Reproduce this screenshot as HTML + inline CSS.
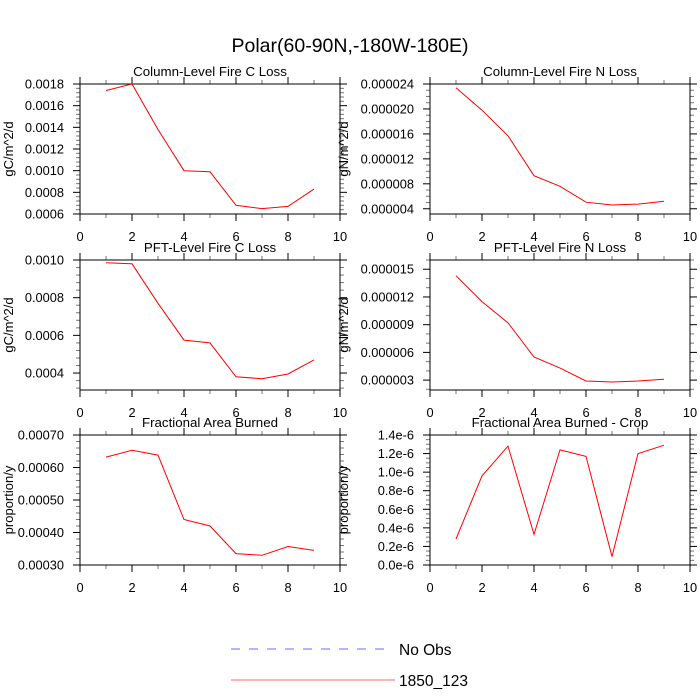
<!DOCTYPE html>
<html><head><meta charset="utf-8">
<style>
html,body{margin:0;padding:0;background:#fff;}
svg{display:block;font-family:"Liberation Sans",sans-serif;}
</style></head>
<body>
<svg id="chart" width="700" height="700" viewBox="0 0 700 700">
<text x="350" y="52" text-anchor="middle" font-size="19.5">Polar(60-90N,-180W-180E)</text>
<g>
<line x1="231" y1="649" x2="388" y2="649" stroke="#6b6bff" stroke-width="1" stroke-dasharray="9,9"/>
<text x="399" y="655" font-size="15.5">No Obs</text>
<line x1="231" y1="680" x2="395" y2="680" stroke="#ff6b6b" stroke-width="1"/>
<text x="399" y="686" font-size="15.5">1850_123</text>
</g>
</svg>
<script>
const xValues = [1,2,3,4,5,6,7,8,9];
const xTicks = [0,2,4,6,8,10];
const colC = [0.00174,0.0018,0.00138,0.00100,0.00099,0.00068,0.00065,0.00067,0.00083];
const colN = [23.4e-6,19.8e-6,15.7e-6,9.3e-6,7.6e-6,5.05e-6,4.6e-6,4.75e-6,5.2e-6];
const pftC = [0.000985,0.00098,0.00077,0.000575,0.00056,0.00038,0.00037,0.000395,0.00047];
const pftN = [14.3e-6,11.5e-6,9.2e-6,5.5e-6,4.3e-6,2.9e-6,2.8e-6,2.9e-6,3.1e-6];
const fab = [0.000632,0.000653,0.000638,0.00044,0.00042,0.000335,0.00033,0.000357,0.000345];
const fabCrop = [0.28e-6,0.96e-6,1.28e-6,0.33e-6,1.24e-6,1.17e-6,0.09e-6,1.20e-6,1.29e-6];
const ticksColC = [0.0006,0.0008,0.0010,0.0012,0.0014,0.0016,0.0018];
const labelsColC = ["0.0006","0.0008","0.0010","0.0012","0.0014","0.0016","0.0018"];
const ticksColN = [4e-6,8e-6,12e-6,16e-6,20e-6,24e-6];
const labelsColN = ["0.000004","0.000008","0.000012","0.000016","0.000020","0.000024"];
const ticksPftC = [0.0004,0.0006,0.0008,0.0010];
const labelsPftC = ["0.0004","0.0006","0.0008","0.0010"];
const ticksPftN = [3e-6,6e-6,9e-6,12e-6,15e-6];
const labelsPftN = ["0.000003","0.000006","0.000009","0.000012","0.000015"];
const ticksFab = [0.0003,0.0004,0.0005,0.0006,0.0007];
const labelsFab = ["0.00030","0.00040","0.00050","0.00060","0.00070"];
const ticksCrop = [0,0.2e-6,0.4e-6,0.6e-6,0.8e-6,1.0e-6,1.2e-6,1.4e-6];
const labelsCrop = ["0.0e-6","0.2e-6","0.4e-6","0.6e-6","0.8e-6","1.0e-6","1.2e-6","1.4e-6"];

const NS="http://www.w3.org/2000/svg";
const svg=document.getElementById('chart');
function mk(tag,attrs,parent){const e=document.createElementNS(NS,tag);for(const k in attrs)e.setAttribute(k,attrs[k]);parent.appendChild(e);return e;}

const panels=[
 {id:'column-c-loss',title:'Column-Level Fire C Loss',ylab:'gC/m^2/d',x0:80,y0:84,ymin:0.0006,ymax:0.0018,data:colC,ticks:ticksColC,labels:labelsColC,minor:4},
 {id:'column-n-loss',title:'Column-Level Fire N Loss',ylab:'gN/m^2/d',x0:430,y0:84,ymin:3.16e-6,ymax:24e-6,data:colN,ticks:ticksColN,labels:labelsColN,minor:3},
 {id:'pft-c-loss',title:'PFT-Level Fire C Loss',ylab:'gC/m^2/d',x0:80,y0:260,ymin:0.00031,ymax:0.0010,data:pftC,ticks:ticksPftC,labels:labelsPftC,minor:4},
 {id:'pft-n-loss',title:'PFT-Level Fire N Loss',ylab:'gN/m^2/d',x0:430,y0:260,ymin:1.93e-6,ymax:16e-6,data:pftN,ticks:ticksPftN,labels:labelsPftN,minor:2},
 {id:'fractional-area-burned',title:'Fractional Area Burned',ylab:'proportion/y',x0:80,y0:435,ymin:0.0003,ymax:0.0007,data:fab,ticks:ticksFab,labels:labelsFab,minor:4},
 {id:'fractional-area-burned-crop',title:'Fractional Area Burned - Crop',ylab:'proportion/y',x0:430,y0:435,ymin:0,ymax:1.4e-6,data:fabCrop,ticks:ticksCrop,labels:labelsCrop,minor:3}
];
const W=260,H=130;
panels.forEach(p=>{
 const g=mk('g',{},svg);
 
 
 const xs=v=>p.x0+v/10*W;
 const ys=v=>p.y0+H-(v-p.ymin)/(p.ymax-p.ymin)*H;
 const step=p.ticks[1]-p.ticks[0];
 for(let i=-1;i<p.ticks.length;i++){
  for(let m=1;m<=p.minor;m++){
   const v=p.ticks[0]+(i+m/(p.minor+1))*step;
   if(v<p.ymin||v>p.ymax)continue;
   const y=ys(v);
   mk('line',{x1:p.x0,y1:y,x2:p.x0-4,y2:y,stroke:'#777','stroke-width':1},g);
   mk('line',{x1:p.x0+W,y1:y,x2:p.x0+W+4,y2:y,stroke:'#777','stroke-width':1},g);
  }
 }
 for(let v=1;v<10;v+=2){
  const x=xs(v);
  mk('line',{x1:x,y1:p.y0+H,x2:x,y2:p.y0+H+4,stroke:'#777','stroke-width':1},g);
  mk('line',{x1:x,y1:p.y0,x2:x,y2:p.y0-4,stroke:'#777','stroke-width':1},g);
 }
 const frame=mk('rect',{x:p.x0,y:p.y0,width:W,height:H,fill:'none',stroke:'#000','stroke-width':1},g);
 
 
 p.ticks.forEach((v,i)=>{
  const y=ys(v);
  mk('line',{x1:p.x0-7,y1:y,x2:p.x0,y2:y,stroke:'#000'},g);
  mk('line',{x1:p.x0+W,y1:y,x2:p.x0+W+7,y2:y,stroke:'#000'},g);
  const t=mk('text',{x:p.x0-16,y:y+4.5,'text-anchor':'end','font-size':12.8},g);
  t.textContent=p.labels[i];
  
  
 });
 xTicks.forEach(v=>{
  const x=xs(v);
  mk('line',{x1:x,y1:p.y0+H,x2:x,y2:p.y0+H+7,stroke:'#000'},g);
  mk('line',{x1:x,y1:p.y0,x2:x,y2:p.y0-7,stroke:'#000'},g);
  const t=mk('text',{x:x,y:p.y0+H+27,'text-anchor':'middle','font-size':12.8},g);
  t.textContent=String(v);
  
  
 });
 const tt=mk('text',{x:p.x0+W/2,y:p.y0-8,'text-anchor':'middle','font-size':13.3},g);
 tt.textContent=p.title;
 
 
 const lx=p.x0<200?13:348;
 const yl=mk('text',{x:lx,y:p.y0+H/2,'text-anchor':'middle','font-size':13,transform:`rotate(-90 ${lx} ${p.y0+H/2})`},g);
 yl.textContent=p.ylab;
 
 
 const pts=p.data.map((v,i)=>xs(xValues[i]).toFixed(1)+','+ys(v).toFixed(1)).join(' ');
 const pl=mk('polyline',{points:pts,fill:'none',stroke:'#ff0000','stroke-width':1},g);
 
 
});
</script>
</body></html>
